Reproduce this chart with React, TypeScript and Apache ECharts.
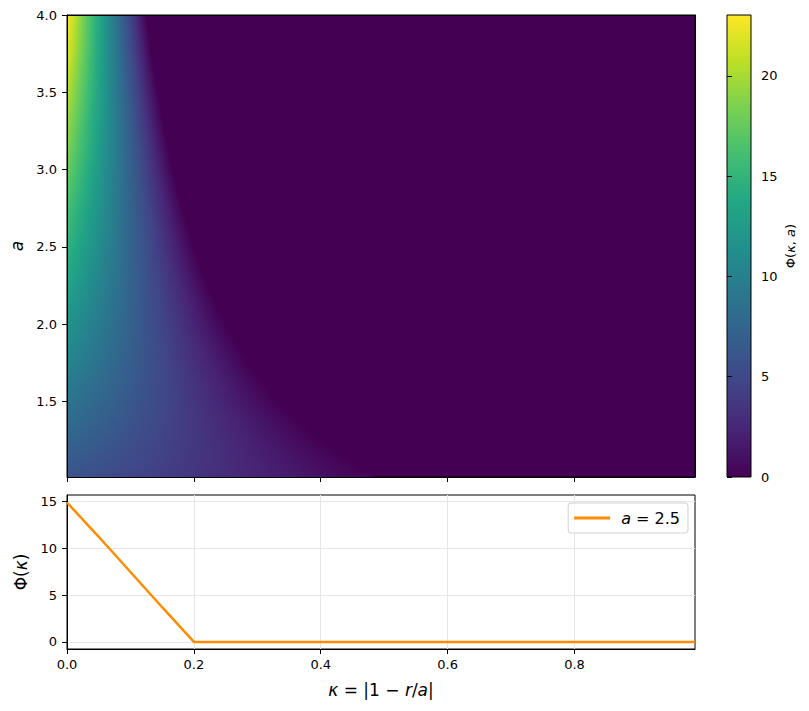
import React, { useEffect, useRef } from 'react';
import * as echarts from 'echarts';

// ---- data ----
// heatmap field Phi(kappa, a): value at kappa≈0 and the kappa where it reaches 0, per a
const aSamples = [1.0, 1.25, 1.5, 1.75, 2.0, 2.25, 2.5, 2.75, 3.0, 3.25, 3.5, 3.75, 4.0];
const peakPhi = [5.9, 7.4, 8.9, 10.4, 11.8, 13.3, 14.8, 16.2, 17.7, 19.1, 20.5, 21.9, 23.0];
const cutoffKappa = [0.49, 0.4, 0.333, 0.286, 0.25, 0.222, 0.2, 0.182, 0.167, 0.154, 0.143, 0.133, 0.125];

// line cut at a = 2.5
const lineKappa = [0, 0.05, 0.1, 0.15, 0.2, 0.4, 0.6, 0.8, 0.99];
const linePhi = [14.85, 11.2, 7.45, 3.7, 0, 0, 0, 0, 0];

// ticks
const kappaTicks = [0, 0.2, 0.4, 0.6, 0.8];
const aTicks = [1.5, 2.0, 2.5, 3.0, 3.5, 4.0];
const colorTicks = [0, 5, 10, 15, 20];
const phiTicks = [0, 5, 10, 15];

const kappaMax = 0.99;
const aMin = 1.01;
const aMax = 4.0;
const colorMax = 23.04;

const viridis = [
  '#440154', '#482475', '#414487', '#355f8d', '#2a788e', '#21918c',
  '#22a884', '#44bf70', '#7ad151', '#bddf26', '#fde725',
];

const FONT = 'DejaVu Sans';

function interp(xs: number[], ys: number[], x: number) {
  if (x <= xs[0]) return ys[0];
  for (let i = 1; i < xs.length; i++) {
    if (x <= xs[i]) {
      const t = (x - xs[i - 1]) / (xs[i] - xs[i - 1]);
      return ys[i - 1] + t * (ys[i] - ys[i - 1]);
    }
  }
  return ys[ys.length - 1];
}

function buildRows() {
  const rows: number[][] = [];
  const step = 0.01;
  for (let a = aMin; a < aMax - 1e-9; a += step) {
    const hi = Math.min(a + step, aMax);
    const mid = (a + hi) / 2;
    rows.push([interp(aSamples, cutoffKappa, mid), a, hi, interp(aSamples, peakPhi, mid)]);
  }
  return rows;
}

export default function App() {
  const ref = useRef<HTMLDivElement>(null);
  useEffect(() => {
    if (!ref.current) return;
    const chart = echarts.init(ref.current, null, { renderer: 'svg' });
    const rows = buildRows();
    const italic = { fontStyle: 'italic', fontFamily: FONT };
    const tickStyle = { show: true, length: 5, inside: false, lineStyle: { color: '#000' } };
    const labelStyle = { color: '#000', fontSize: 13, fontFamily: FONT };

    const option: any = {
      animation: false,
      backgroundColor: '#fff',
      textStyle: { fontFamily: FONT },
      grid: [
        { left: 67, top: 15, width: 628, height: 462, show: true, backgroundColor: '#440154', borderColor: '#000', borderWidth: 1 },
        { left: 727, top: 15, width: 24, height: 462, show: false },
        { left: 67, top: 495, width: 628, height: 154, show: true, backgroundColor: '#fff', borderColor: '#000', borderWidth: 1 },
      ],
      xAxis: [
        {
          type: 'value', gridIndex: 0, min: 0, max: kappaMax, z: 10,
          axisLine: { show: true, onZero: false, lineStyle: { color: '#000', width: 1 } },
          axisTick: { ...tickStyle, customValues: kappaTicks },
          axisLabel: { show: false, customValues: kappaTicks },
          splitLine: { show: false },
        },
        {
          type: 'value', gridIndex: 0, min: 0, max: kappaMax, position: 'top', z: 10,
          axisLine: { show: true, onZero: false, lineStyle: { color: '#000', width: 1 } },
          axisTick: { show: false }, axisLabel: { show: false }, splitLine: { show: false },
        },
        {
          type: 'value', gridIndex: 1, min: 0, max: 1, show: false,
        },
        {
          type: 'value', gridIndex: 2, min: 0, max: kappaMax, z: 0,
          axisLine: { show: true, onZero: false, lineStyle: { color: '#000', width: 1 } },
          axisTick: { ...tickStyle, customValues: kappaTicks },
          axisLabel: { ...labelStyle, margin: 9, customValues: kappaTicks, formatter: (v: number) => v.toFixed(1) },
          splitLine: { show: true, lineStyle: { color: '#e6e6e6', width: 1 } },
          name: '{i|κ} = |1 − {i|r}/{i|a}|',
          nameLocation: 'middle',
          nameGap: 32,
          nameTextStyle: { fontSize: 17, color: '#000', fontFamily: FONT, rich: { i: { ...italic, fontSize: 17 } } },
        },
      ],
      yAxis: [
        {
          type: 'value', gridIndex: 0, min: aMin, max: aMax, z: 10,
          axisLine: { show: true, onZero: false, lineStyle: { color: '#000', width: 1 } },
          axisTick: { ...tickStyle, customValues: aTicks },
          axisLabel: { ...labelStyle, margin: 10, customValues: aTicks, formatter: (v: number) => v.toFixed(1) },
          splitLine: { show: false },
          name: '{i|a}',
          nameLocation: 'middle',
          nameGap: 42,
          nameTextStyle: { fontSize: 17, color: '#000', rich: { i: { ...italic, fontSize: 17 } } },
        },
        {
          type: 'value', gridIndex: 0, min: aMin, max: aMax, position: 'right', z: 10,
          axisLine: { show: true, onZero: false, lineStyle: { color: '#000', width: 1 } },
          axisTick: { show: false }, axisLabel: { show: false }, splitLine: { show: false },
        },
        {
          type: 'value', gridIndex: 1, min: 0, max: colorMax, position: 'right', z: 10,
          axisLine: { show: false },
          axisTick: { ...tickStyle, customValues: colorTicks },
          axisLabel: { ...labelStyle, margin: 10, customValues: colorTicks },
          splitLine: { show: false },
          name: 'Φ({i|κ}, {i|a})',
          nameLocation: 'middle',
          nameRotate: 90,
          nameGap: 33,
          nameTextStyle: { fontSize: 13, color: '#000', fontFamily: FONT, rich: { i: { ...italic, fontSize: 13 } } },
        },
        {
          type: 'value', gridIndex: 2, min: -0.75, max: 15.65, z: 0,
          axisLine: { show: true, onZero: false, lineStyle: { color: '#000', width: 1 } },
          axisTick: { ...tickStyle, customValues: phiTicks },
          axisLabel: { ...labelStyle, margin: 10, customValues: phiTicks },
          splitLine: { show: true, lineStyle: { color: '#e6e6e6', width: 1 } },
          name: 'Φ({i|κ})',
          nameLocation: 'middle',
          nameGap: 35,
          nameTextStyle: { fontSize: 17, color: '#000', fontFamily: FONT, rich: { i: { ...italic, fontSize: 17 } } },
        },
      ],
      legend: {
        data: ['a = 2.5'],
        right: 121,
        top: 503,
        orient: 'vertical',
        icon: 'rect',
        itemWidth: 36,
        itemHeight: 3,
        itemGap: 8,
        padding: [7, 8, 7, 6],
        borderColor: '#d0d0d0',
        borderWidth: 1,
        borderRadius: 3,
        backgroundColor: 'rgba(255,255,255,0.8)',
        formatter: () => '{i|a} = 2.5',
        textStyle: { fontSize: 16, color: '#000', fontFamily: FONT, padding: [0, 0, 0, 6], rich: { i: { ...italic, fontSize: 16 } } },
      },
      series: [
        {
          type: 'custom',
          name: 'heat',
          xAxisIndex: 0,
          yAxisIndex: 0,
          data: rows,
          encode: { x: [0], y: [1, 2] },
          silent: true,
          renderItem: (params: any, api: any) => {
            const cut = api.value(0);
            const lo = api.value(1);
            const hi = api.value(2);
            const pk = api.value(3);
            const p0 = api.coord([0, hi]);
            const p1 = api.coord([cut, lo]);
            const stops: any[] = [];
            const n = 14;
            for (let i = 0; i <= n; i++) {
              const t = i / n;
              const v = pk * (1 - t);
              stops.push({ offset: t, color: echarts.color.lerp(Math.min(Math.max(v / colorMax, 0), 1), viridis) });
            }
            const top = p0[1];
            const bottom = Math.min(p1[1] + 1.5, api.coord([0, aMin])[1]);
            return {
              type: 'rect',
              shape: { x: p0[0], y: top, width: p1[0] - p0[0], height: bottom - top },
              style: { fill: { type: 'linear', x: 0, y: 0, x2: 1, y2: 0, colorStops: stops } },
            };
          },
        },
        {
          type: 'custom',
          name: 'colorbar',
          xAxisIndex: 2,
          yAxisIndex: 2,
          data: [[0, 0]],
          encode: { x: [0], y: [1] },
          silent: true,
          renderItem: (params: any, api: any) => {
            const p0 = api.coord([0, colorMax]);
            const p1 = api.coord([1, 0]);
            const stops = viridis.map((c, i) => ({ offset: i / (viridis.length - 1), color: c }));
            return {
              type: 'rect',
              shape: { x: p0[0], y: p0[1], width: p1[0] - p0[0], height: p1[1] - p0[1] },
              style: {
                fill: { type: 'linear', x: 0, y: 1, x2: 0, y2: 0, colorStops: stops },
                stroke: '#000',
                lineWidth: 1,
              },
            };
          },
        },
        {
          type: 'line',
          name: 'a = 2.5',
          xAxisIndex: 3,
          yAxisIndex: 3,
          data: lineKappa.map((k, i) => [k, linePhi[i]]),
          showSymbol: false,
          symbol: 'none',
          lineStyle: { color: '#ff8c00', width: 2.5 },
          itemStyle: { color: '#ff8c00' },
          z: 5,
        },
      ],
    };
    chart.setOption(option);
    return () => chart.dispose();
  }, []);
  return <div ref={ref} style={{ width: 809, height: 711, position: 'absolute', left: 0, top: 0 }} />;
}
